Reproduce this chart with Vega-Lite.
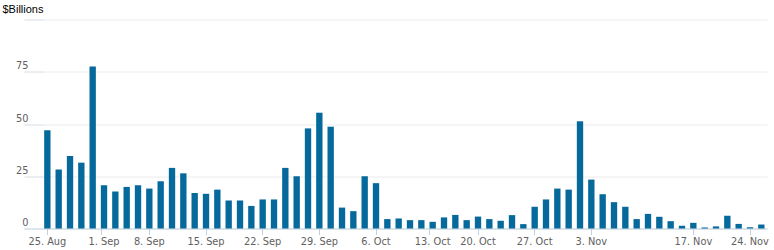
{
  "$schema": "https://vega.github.io/schema/vega-lite/v6.json",
  "width": 743,
  "height": 209,
  "autosize": "none",
  "padding": {"left": 24, "top": 19.5, "right": 7, "bottom": 21.5},
  "background": "#ffffff",
  "config": {"view": {"stroke": null}},
  "data": {"values": [
    {"date": "2014-08-25", "value": 47.0},
    {"date": "2014-08-26", "value": 28.2},
    {"date": "2014-08-27", "value": 34.7},
    {"date": "2014-08-28", "value": 31.5},
    {"date": "2014-08-29", "value": 77.5},
    {"date": "2014-09-02", "value": 20.7},
    {"date": "2014-09-03", "value": 17.7},
    {"date": "2014-09-04", "value": 19.9},
    {"date": "2014-09-05", "value": 20.7},
    {"date": "2014-09-08", "value": 19.1},
    {"date": "2014-09-09", "value": 22.6},
    {"date": "2014-09-10", "value": 29.0},
    {"date": "2014-09-11", "value": 26.4},
    {"date": "2014-09-12", "value": 17.0},
    {"date": "2014-09-15", "value": 16.6},
    {"date": "2014-09-16", "value": 18.6},
    {"date": "2014-09-17", "value": 13.4},
    {"date": "2014-09-18", "value": 13.4},
    {"date": "2014-09-19", "value": 10.8},
    {"date": "2014-09-22", "value": 13.9},
    {"date": "2014-09-23", "value": 13.9},
    {"date": "2014-09-24", "value": 29.0},
    {"date": "2014-09-25", "value": 25.0},
    {"date": "2014-09-26", "value": 47.9},
    {"date": "2014-09-29", "value": 55.4},
    {"date": "2014-09-30", "value": 48.7},
    {"date": "2014-10-01", "value": 10.0},
    {"date": "2014-10-02", "value": 8.3},
    {"date": "2014-10-03", "value": 25.0},
    {"date": "2014-10-06", "value": 21.7},
    {"date": "2014-10-07", "value": 4.5},
    {"date": "2014-10-08", "value": 4.8},
    {"date": "2014-10-09", "value": 4.0},
    {"date": "2014-10-10", "value": 4.0},
    {"date": "2014-10-14", "value": 3.2},
    {"date": "2014-10-15", "value": 5.3},
    {"date": "2014-10-16", "value": 6.5},
    {"date": "2014-10-17", "value": 4.0},
    {"date": "2014-10-20", "value": 5.7},
    {"date": "2014-10-21", "value": 4.5},
    {"date": "2014-10-22", "value": 3.7},
    {"date": "2014-10-23", "value": 6.4},
    {"date": "2014-10-24", "value": 2.1},
    {"date": "2014-10-27", "value": 10.4},
    {"date": "2014-10-28", "value": 13.9},
    {"date": "2014-10-29", "value": 19.1},
    {"date": "2014-10-30", "value": 18.6},
    {"date": "2014-10-31", "value": 51.3},
    {"date": "2014-11-03", "value": 23.4},
    {"date": "2014-11-04", "value": 16.4},
    {"date": "2014-11-05", "value": 12.6},
    {"date": "2014-11-06", "value": 10.4},
    {"date": "2014-11-07", "value": 4.5},
    {"date": "2014-11-10", "value": 7.0},
    {"date": "2014-11-12", "value": 5.6},
    {"date": "2014-11-13", "value": 3.5},
    {"date": "2014-11-14", "value": 1.3},
    {"date": "2014-11-17", "value": 2.7},
    {"date": "2014-11-18", "value": 0.5},
    {"date": "2014-11-19", "value": 1.0},
    {"date": "2014-11-20", "value": 6.1},
    {"date": "2014-11-21", "value": 2.2},
    {"date": "2014-11-24", "value": 0.6},
    {"date": "2014-11-25", "value": 1.9}
  ]},
  "layer": [
    {
      "mark": {"type": "bar", "color": "#06699b", "width": {"band": 0.56}},
      "encoding": {
        "x": {
          "field": "date", "type": "ordinal",
          "scale": {"paddingInner": 0, "paddingOuter": 0.78, "align": 1},
          "axis": {
            "orient": "bottom",
            "title": null,
            "values": ["2014-08-25","2014-09-08","2014-09-15","2014-09-22","2014-09-29","2014-10-06","2014-10-20","2014-10-27","2014-11-03","2014-11-17","2014-11-24"],
            "labelExpr": "utcFormat(toDate(datum.value), '%-d. %b')",
            "labelAngle": 0,
            "labelFont": "DejaVu Sans",
            "labelFontSize": 9.8,
            "labelColor": "#606060",
            "labelPadding": 1.5,
            "labelBaseline": "top",
            "labelOverlap": false,
            "domain": true,
            "domainColor": "#c0d0e0",
            "domainWidth": 1,
            "ticks": true,
            "tickColor": "#c0d0e0",
            "tickSize": 6,
            "tickWidth": 1,
            "grid": false
          }
        },
        "y": {
          "field": "value", "type": "quantitative",
          "scale": {"domain": [0, 100], "nice": false},
          "axis": {
            "values": [0, 25, 50, 75, 100],
            "title": "$Billions",
            "titleAngle": 0,
            "titleX": -22,
            "titleY": -7,
            "titleAlign": "left",
            "titleBaseline": "alphabetic",
            "titleFont": "Liberation Sans",
            "titleFontSize": 11,
            "titleFontWeight": "normal",
            "titleColor": "#000000",
            "labelExpr": "datum.value == 100 ? '' : datum.label",
            "labelFont": "DejaVu Sans",
            "labelFontSize": 9.8,
            "labelColor": "#606060",
            "labelAlign": "right",
            "labelBaseline": "alphabetic",
            "labelOffset": -3,
            "labelPadding": 15,
            "domain": false,
            "ticks": true,
            "tickSize": -19,
            "tickColor": "#dfe8f1",
            "grid": true,
            "gridColor": "#ececec",
            "gridWidth": 1
          }
        }
      }
    },
    {
      "mark": {"type": "bar", "opacity": 0, "width": {"band": 0.56}},
      "encoding": {
        "x": {
          "field": "date", "type": "ordinal",
          "axis": {
            "orient": "bottom",
            "title": null,
            "values": ["2014-09-02", "2014-10-14"],
            "bandPosition": 0.25,
            "labelExpr": "datum.value == '2014-09-02' ? '1. Sep' : '13. Oct'",
            "labelAngle": 0,
            "labelFont": "DejaVu Sans",
            "labelFontSize": 9.8,
            "labelColor": "#606060",
            "labelPadding": 1.5,
            "labelBaseline": "top",
            "labelOverlap": false,
            "domain": false,
            "ticks": true,
            "tickColor": "#c0d0e0",
            "tickSize": 6,
            "tickWidth": 1,
            "grid": false
          }
        },
        "y": {"field": "value", "type": "quantitative"}
      }
    }
  ],
  "resolve": {"axis": {"x": "independent"}}
}
